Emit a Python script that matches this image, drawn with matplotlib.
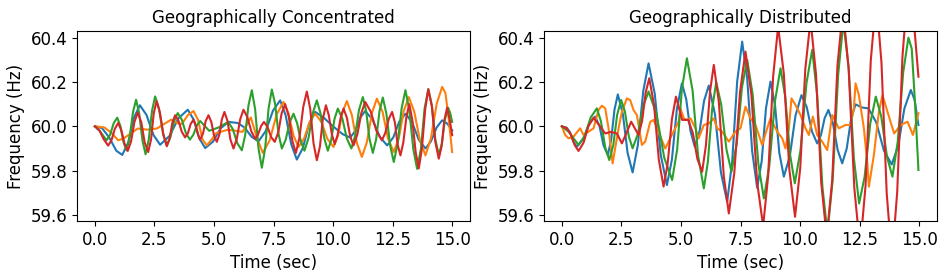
import numpy as np
import matplotlib
matplotlib.use("Agg")
import matplotlib.pyplot as plt

# ---------------- data ----------------
nominal_hz = 60.0   # all series are stored as deviation from 60 Hz (in Hz)

# Geographically Concentrated
conc_blue_t = [0, 0.3, 0.6, 0.9, 1.15, 1.40, 1.64, 1.89, 2.17, 2.46, 2.74, 3.13, 3.51, 3.90, 4.14, 4.39, 4.63, 4.96, 5.28, 5.61,
               6.0, 6.29, 6.58, 6.87, 7.17, 7.48, 7.78, 8.01, 8.25, 8.48, 8.74, 8.99, 9.25, 9.6, 10.0, 10.4, 10.72, 10.93, 11.14, 11.35,
               11.66, 11.96, 12.27, 12.53, 12.78, 13.04, 13.32, 13.60, 13.88, 14.11, 14.35, 14.58, 14.8, 15.0]
conc_blue_d = [0, -0.008, -0.05, -0.11, -0.129, -0.073, 0.039, 0.095, 0.051, -0.039, -0.083, -0.044, 0.036, 0.075, 0.032, -0.055, -0.098, -0.069, -0.009, 0.020,
               0.015, -0.006, -0.047, -0.068, -0.022, 0.071, 0.117, 0.05, -0.083, -0.15, -0.096, 0.011, 0.065, 0.04, 0.0, -0.035, -0.051, -0.021, 0.039, 0.069,
               0.03, -0.047, -0.086, -0.05, 0.021, 0.057, 0.018, -0.061, -0.10, -0.068, -0.005, 0.027, 0.012, -0.018]

conc_orange_t = [0, 0.4, 0.7, 0.98, 1.2, 1.4, 1.8, 2.2, 2.6, 2.9, 3.2, 3.45, 3.65, 3.9, 4.14, 4.33, 4.52, 4.70, 4.9, 5.1,
                 5.6, 6.2, 6.55, 6.8, 7.05, 7.34, 7.63, 7.92, 8.13, 8.34, 8.55, 8.78, 9.02, 9.25, 9.51, 9.76, 10.02, 10.21, 10.39, 10.58,
                 10.79, 11.0, 11.21, 11.42, 11.63, 11.84, 12.08, 12.31, 12.55, 12.76, 12.97, 13.18, 13.41, 13.65, 13.88, 14.11, 14.35, 14.58, 14.72, 14.86, 15.0]
conc_orange_d = [0, -0.005, -0.03, -0.063, -0.055, -0.04, -0.01, -0.015, -0.01, 0.01, 0.03, 0.015, 0.01, 0.05, 0.069, 0.03, -0.06, -0.086, -0.06, -0.03,
                 -0.015, -0.025, 0.04, -0.05, -0.12, -0.063, 0.053, 0.11, 0.059, -0.042, -0.093, -0.056, 0.02, 0.057, 0.02, -0.056, -0.093, -0.041, 0.062, 0.114,
                 0.051, -0.075, -0.138, -0.072, 0.059, 0.125, 0.065, -0.056, -0.116, -0.054, 0.07, 0.132, 0.066, -0.065, -0.131, -0.054, 0.101, 0.178, 0.15, 0.03, -0.116]

conc_green_t = [0, 0.2, 0.49, 0.64, 0.79, 0.94, 1.07, 1.20, 1.33, 1.46, 1.60, 1.73, 1.86, 2.0, 2.13, 2.26, 2.40, 2.53, 2.69, 2.86,
                3.02, 3.17, 3.33, 3.48, 3.65, 3.82, 3.99, 4.13, 4.28, 4.42, 4.61, 4.8, 5.2, 5.6, 5.79, 5.98, 6.17, 6.31, 6.45, 6.59,
                6.73, 6.87, 7.01, 7.15, 7.29, 7.43, 7.57, 7.71, 7.85, 8.01, 8.18, 8.34, 8.49, 8.65, 8.80, 8.97, 9.15, 9.32, 9.47, 9.63,
                9.78, 9.92, 10.06, 10.2, 10.39, 10.58, 10.77, 10.93, 11.09, 11.25, 11.39, 11.53, 11.67, 11.81, 11.95, 12.09, 12.24, 12.40, 12.55, 12.71,
                12.88, 13.04, 13.20, 13.37, 13.53, 13.69, 13.84, 14.0, 14.15, 14.29, 14.44, 14.57, 14.70, 14.83, 14.92, 15.0]
conc_green_d = [0, -0.02, -0.063, -0.038, 0.014, 0.039, 0.002, -0.071, -0.108, -0.051, 0.063, 0.12, 0.059, -0.065, -0.126, -0.061, 0.07, 0.135, 0.08, -0.031,
                -0.086, -0.05, 0.024, 0.06, 0.03, -0.03, -0.06, -0.039, 0.003, 0.024, 0.002, -0.02, -0.005, 0.02, -0.012, -0.076, -0.108, -0.04, 0.095, 0.163,
                0.076, -0.1, -0.187, -0.099, 0.078, 0.166, 0.1, -0.034, -0.10, -0.061, 0.018, 0.057, 0.015, -0.068, -0.11, -0.053, 0.06, 0.117, 0.06, -0.053,
                -0.11, -0.063, 0.033, 0.08, 0.035, -0.055, -0.10, -0.042, 0.074, 0.132, 0.069, -0.057, -0.12, -0.058, 0.068, 0.13, 0.057, -0.088, -0.161, -0.08,
                0.082, 0.163, 0.074, -0.103, -0.192, -0.102, 0.078, 0.168, 0.094, -0.056, -0.13, -0.077, 0.031, 0.084, 0.06, 0.02]

conc_red_t = [0, 0.2, 0.38, 0.56, 0.70, 0.84, 0.98, 1.11, 1.25, 1.38, 1.52, 1.66, 1.80, 1.95, 2.09, 2.24, 2.36, 2.47, 2.59, 2.73,
              2.88, 3.02, 3.14, 3.25, 3.37, 3.51, 3.65, 3.79, 3.91, 4.02, 4.14, 4.23, 4.33, 4.42, 4.54, 4.65, 4.77, 4.89, 5.0, 5.12,
              5.23, 5.33, 5.44, 5.57, 5.69, 5.82, 5.96, 6.10, 6.24, 6.40, 6.57, 6.73, 6.85, 6.98, 7.1, 7.25, 7.40, 7.55, 7.70, 7.84,
              7.99, 8.14, 8.29, 8.44, 8.59, 8.75, 8.9, 9.04, 9.18, 9.32, 9.45, 9.57, 9.7, 9.82, 9.95, 10.07, 10.19, 10.32, 10.44, 10.58,
              10.72, 10.86, 11.02, 11.19, 11.35, 11.58, 11.82, 12.05, 12.19, 12.34, 12.48, 12.60, 12.71, 12.83, 12.95, 13.08, 13.2, 13.33, 13.47, 13.6,
              13.73, 13.87, 14.0, 14.15, 14.29, 14.44, 14.56, 14.67, 14.79, 14.9, 15.0]
conc_red_d = [0, -0.02, -0.06, -0.087, -0.062, -0.011, 0.015, -0.017, -0.08, -0.111, -0.068, 0.019, 0.062, 0.018, -0.072, -0.116, -0.059, 0.057, 0.114, 0.063,
              -0.039, -0.09, -0.055, 0.015, 0.05, 0.025, -0.025, -0.05, -0.03, 0.01, 0.03, 0.008, -0.038, -0.06, -0.033, 0.023, 0.05, 0.02, -0.04, -0.07,
              -0.036, 0.031, 0.065, 0.024, -0.059, -0.1, -0.056, 0.031, 0.075, 0.042, -0.023, -0.056, -0.037, 0.001, 0.02, -0.003, -0.048, -0.07, -0.028, 0.058,
              0.1, 0.045, -0.065, -0.12, -0.051, 0.088, 0.157, 0.08, -0.076, -0.153, -0.091, 0.033, 0.095, 0.051, -0.036, -0.08, -0.04, 0.04, 0.08, 0.039,
              -0.045, -0.086, -0.037, 0.061, 0.11, 0.067, -0.02, -0.063, -0.031, 0.033, 0.065, 0.016, -0.082, -0.131, -0.073, 0.042, 0.1, 0.028, -0.118, -0.19,
              -0.101, 0.078, 0.167, 0.089, -0.068, -0.146, -0.089, 0.027, 0.084, 0.03, -0.04]

# Geographically Distributed
dist_blue_t = [0, 0.2, 0.34, 0.49, 0.63, 0.89, 1.14, 1.40, 1.58, 1.75, 1.93, 2.07, 2.21, 2.35, 2.56, 2.76, 2.97, 3.19, 3.42, 3.64,
               3.90, 4.15, 4.41, 4.62, 4.83, 5.04, 5.22, 5.40, 5.58, 5.78, 5.97, 6.17, 6.43, 6.68, 6.94, 7.15, 7.36, 7.57, 7.78, 7.99,
               8.2, 8.39, 8.57, 8.76, 8.95, 9.13, 9.32, 9.57, 9.81, 10.06, 10.28, 10.50, 10.72, 10.88, 11.03, 11.19, 11.38, 11.58, 11.77,
               11.96, 12.14, 12.33, 12.6, 12.87, 13.2, 13.52, 13.85, 14.12, 14.38, 14.65, 14.81, 14.97]
dist_blue_d = [0, -0.006, -0.027, -0.071, -0.092, -0.058, 0.010, 0.044, 0.001, -0.086, -0.129, -0.061, 0.076, 0.144, 0.056, -0.12, -0.208, -0.085, 0.161, 0.284,
               0.147, -0.128, -0.265, -0.15, 0.079, 0.194, 0.123, -0.021, -0.092, -0.023, 0.115, 0.184, 0.053, -0.209, -0.34, -0.16, 0.202, 0.382, 0.217, -0.112,
               -0.277, -0.157, 0.082, 0.202, 0.095, -0.12, -0.227, -0.135, 0.049, 0.141, 0.087, -0.023, -0.077, -0.039, 0.036, 0.074, 0.014, -0.107, -0.167,
               -0.1, 0.032, 0.099, 0.085, 0.081, 0.018, -0.109, -0.172, -0.088, 0.08, 0.164, 0.12, 0.006]

dist_orange_t = [0, 0.14, 0.28, 0.49, 0.77, 0.91, 1.12, 1.33, 1.54, 1.68, 1.82, 1.96, 2.13, 2.38, 2.52, 2.73, 2.87, 3.01, 3.15, 3.29,
                 3.36, 3.50, 3.71, 3.85, 4.34, 4.62, 4.90, 4.98, 5.12, 5.26, 5.40, 5.61, 5.74, 5.96, 6.17, 6.38, 6.52, 6.73, 7.01, 7.29,
                 7.50, 7.71, 7.92, 8.13, 8.27, 8.41, 8.62, 8.76, 8.90, 9.04, 9.25, 9.39, 9.53, 9.64, 9.81, 10.02, 10.23, 10.37, 10.54, 10.72,
                 10.93, 11.14, 11.35, 11.63, 11.91, 12.12, 12.26, 12.33, 12.47, 12.68, 12.82, 12.89, 13.10, 13.31, 13.46, 13.67, 13.95, 14.23, 14.51, 14.74, 14.97]
dist_orange_d = [0, -0.039, -0.054, -0.046, -0.009, -0.039, -0.024, -0.009, 0.074, 0.093, 0.081, -0.009, -0.167, -0.009, 0.066, 0.126, 0.118, 0.073, 0.051, -0.039,
                 -0.084, -0.069, 0.020, 0.029, -0.100, -0.039, 0.021, 0.081, 0.036, 0.029, 0.036, -0.009, -0.054, 0.006, 0.013, 0.036, -0.009, -0.024, -0.069, -0.024,
                 -0.009, 0.089, 0.036, 0.006, -0.039, -0.084, -0.009, 0.036, 0.006, -0.024, -0.054, -0.100, -0.009, 0.126, 0.096, 0.051, -0.009, -0.039, 0.044, -0.039,
                 -0.069, -0.107, 0.051, -0.009, 0.006, 0.006, 0.081, 0.194, 0.141, -0.009, -0.160, -0.272, -0.129, 0.066, 0.141, 0.066, -0.032, 0.006, 0.021, -0.039, 0.059]

dist_green_t = [0, 0.28, 0.70, 0.96, 1.21, 1.47, 1.64, 1.82, 1.99, 2.16, 2.32, 2.49, 2.65, 2.81, 2.97, 3.19, 3.42, 3.64, 3.97, 4.30,
                4.63, 4.84, 5.04, 5.25, 5.49, 5.72, 5.96, 6.13, 6.31, 6.48, 6.69, 6.91, 7.12, 7.34, 7.56, 7.78, 8.01, 8.25, 8.48, 8.71,
                8.95, 9.18, 9.38, 9.58, 9.78, 10.02, 10.27, 10.51, 10.72, 10.94, 11.15, 11.37, 11.60, 11.82, 12.04, 12.26, 12.48, 12.71, 12.95, 13.18,
                13.41, 13.65, 13.88, 14.10, 14.33, 14.55, 14.69, 14.83, 14.97]
dist_green_d = [0, -0.024, -0.084, -0.043, 0.040, 0.081, 0.023, -0.094, -0.152, -0.084, 0.051, 0.119, 0.065, -0.045, -0.099, -0.035, 0.093, 0.157, 0.057, -0.142,
                -0.242, -0.105, 0.17, 0.307, 0.16, -0.133, -0.28, -0.16, 0.079, 0.199, 0.098, -0.104, -0.205, -0.079, 0.174, 0.30, 0.144, -0.169, -0.325, -0.178,
                0.115, 0.262, 0.132, -0.127, -0.257, -0.107, 0.195, 0.345, 0.139, -0.274, -0.48, -0.243, 0.233, 0.47, 0.266, -0.144, -0.348, -0.228, 0.014, 0.134,
                0.044, -0.137, -0.227, -0.07, 0.243, 0.40, 0.35, 0.10, -0.197]

dist_red_t = [0, 0.21, 0.37, 0.54, 0.70, 0.91, 1.12, 1.33, 1.57, 1.82, 2.06, 2.31, 2.52, 2.72, 2.91, 3.22, 3.37, 3.52, 3.67, 3.87,
              4.07, 4.27, 4.44, 4.62, 4.79, 5.05, 5.30, 5.50, 5.69, 5.89, 6.05, 6.22, 6.38, 6.59, 6.80, 7.01, 7.24, 7.48, 7.71, 7.96,
              8.20, 8.45, 8.66, 8.87, 9.08, 9.32, 9.55, 9.79, 10.01, 10.22, 10.44, 10.67, 10.89, 11.12, 11.35, 11.57, 11.80, 12.04, 12.28, 12.52,
              12.75, 12.97, 13.20, 13.42, 13.64, 13.86, 14.08, 14.30, 14.52, 14.67, 14.82, 14.97]
dist_red_d = [0, -0.009, -0.035, -0.085, -0.111, -0.074, 0.002, 0.039, 0.005, -0.032, -0.025, -0.032, -0.077, -0.028, 0.021, -0.039, 0.025, 0.153, 0.217, 0.095,
              -0.15, -0.272, -0.17, 0.032, 0.134, 0.029, 0.029, -0.03, -0.147, -0.205, -0.085, 0.157, 0.277, 0.11, -0.226, -0.393, -0.21, 0.155, 0.337, 0.14,
              -0.253, -0.45, -0.225, 0.225, 0.45, 0.236, -0.194, -0.408, -0.186, 0.258, 0.48, 0.235, -0.255, -0.50, -0.243, 0.273, 0.53, 0.26, -0.28, -0.55,
              -0.268, 0.298, 0.58, 0.285, -0.305, -0.60, -0.295, 0.315, 0.62, 0.55, 0.42, 0.224]

panel_titles = ["Geographically Concentrated", "Geographically Distributed"]
x_label = "Time (sec)"
y_label = "Frequency (Hz)"
x_ticks = [0.0, 2.5, 5.0, 7.5, 10.0, 12.5, 15.0]
y_ticks = [59.6, 59.8, 60.0, 60.2, 60.4]

panels = [
    [(conc_blue_t, conc_blue_d), (conc_orange_t, conc_orange_d), (conc_green_t, conc_green_d), (conc_red_t, conc_red_d)],
    [(dist_blue_t, dist_blue_d), (dist_orange_t, dist_orange_d), (dist_green_t, dist_green_d), (dist_red_t, dist_red_d)],
]
colors = ["#1f77b4", "#ff7f0e", "#2ca02c", "#d62728"]

W, H = 947, 277
fig = plt.figure(figsize=(W / 100, H / 100), dpi=100)
rects = [
    [77 / W, (H - 221) / H, 393 / W, 190 / H],
    [544 / W, (H - 221) / H, 393 / W, 190 / H],
]
for rect, series, title in zip(rects, panels, panel_titles):
    ax = fig.add_axes(rect)
    for (t, d), c in zip(series, colors):
        ax.plot(t, nominal_hz + np.asarray(d), color=c, lw=1.5)
    ax.set_xlim(-0.75, 15.75)
    ax.set_ylim(59.573, 60.43)
    ax.set_xticks(x_ticks)
    ax.set_yticks(y_ticks)
    ax.set_xticklabels([f"{v:.1f}" for v in x_ticks])
    ax.set_yticklabels([f"{v:.1f}" for v in y_ticks])
    ax.tick_params(labelsize=12)
    ax.set_title(title, fontsize=12)
    ax.set_xlabel(x_label, fontsize=12)
    ax.set_ylabel(y_label, fontsize=12)

fig.savefig("out.png", dpi=100)
